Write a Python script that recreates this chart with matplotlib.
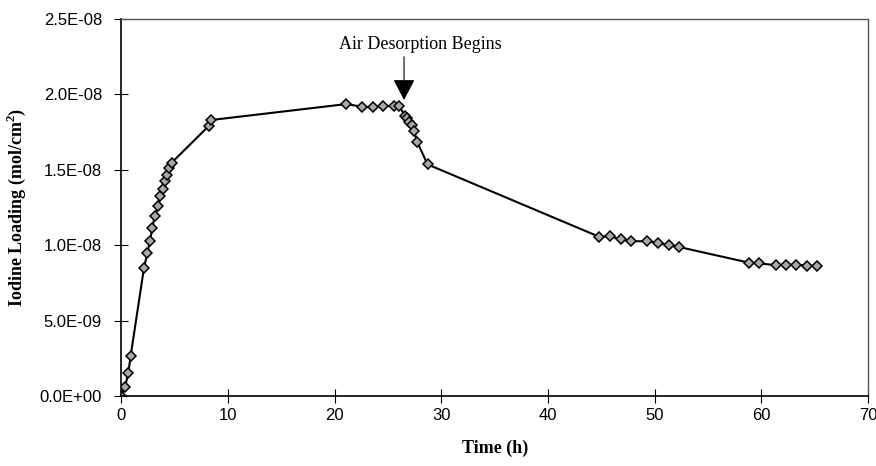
import numpy as np
import matplotlib
matplotlib.use('Agg')
import matplotlib.pyplot as plt

# data
time_h = [0, 0.34, 0.65, 0.87, 2.12, 2.43, 2.68, 2.9, 3.12, 3.46, 3.65, 3.87,
          4.09, 4.3, 4.49, 4.71, 8.21, 8.4, 21.1, 22.58, 23.55, 24.55, 25.55,
          26.05, 26.58, 26.8, 26.98, 27.21, 27.45, 27.73, 28.7, 44.79, 45.79,
          46.8, 47.76, 49.29, 50.32, 51.32, 52.29, 58.85, 59.78, 61.35, 62.29,
          63.29, 64.28, 65.22]
loading_e8 = [0, 0.058, 0.155, 0.267, 0.851, 0.946, 1.03, 1.112, 1.194, 1.26,
              1.326, 1.371, 1.428, 1.466, 1.51, 1.547, 1.792, 1.83, 1.936,
              1.918, 1.914, 1.923, 1.925, 1.923, 1.857, 1.842, 1.819, 1.797,
              1.757, 1.686, 1.536, 1.056, 1.059, 1.039, 1.026, 1.026, 1.015,
              1.001, 0.988, 0.884, 0.88, 0.867, 0.869, 0.871, 0.864, 0.862]
loading = np.array(loading_e8) * 1e-8

xticks = [0, 10, 20, 30, 40, 50, 60, 70]
yticks = [0, 5e-9, 1e-8, 1.5e-8, 2e-8, 2.5e-8]
ytick_labels = ['0.0E+00', '5.0E-09', '1.0E-08', '1.5E-08', '2.0E-08', '2.5E-08']

serif = 'Liberation Serif'
sans = 'Liberation Sans'

# bold serif superscript in the y label
plt.rcParams['mathtext.fontset'] = 'custom'
plt.rcParams['mathtext.rm'] = serif + ':bold'
plt.rcParams['mathtext.bf'] = serif + ':bold'

fig = plt.figure(figsize=(8.76, 4.66), dpi=100)
ax = fig.add_axes([121.4 / 876, 70 / 466, (868 - 121.4) / 876, (396 - 19) / 466])

ax.plot(time_h, loading, color='black', lw=1.5, marker='D', markersize=5.5,
        markerfacecolor='#a8a8a8', markeredgecolor='black', markeredgewidth=1.1)

ax.set_xlim(0, 70)
ax.set_ylim(0, 2.5e-8)
ax.set_xticks(xticks)
ax.set_xticklabels([str(t) for t in xticks], fontfamily=sans, fontsize=12)
ax.set_yticks(yticks)
ax.set_yticklabels(ytick_labels, fontfamily=sans, fontsize=12)
ax.tick_params(axis='both', direction='inout', length=10, width=0.8, color='black')
ax.tick_params(axis='x', pad=4)
ax.tick_params(axis='y', pad=9)

for s in ['left', 'bottom']:
    ax.spines[s].set_linewidth(1.2)
    ax.spines[s].set_color('black')
for s in ['top', 'right']:
    ax.spines[s].set_linewidth(1.0)
    ax.spines[s].set_color('#555555')

ax.set_xlabel('Time (h)', fontfamily=serif, fontweight='bold', fontsize=13, labelpad=12)
ax.set_ylabel('Iodine Loading (mol/cm$^\\mathbf{2}$)', fontfamily=serif, fontweight='bold',
              fontsize=13, labelpad=8)

# annotation
ax.text(28.0, 2.33e-8, 'Air Desorption Begins', fontfamily=serif, fontsize=13,
        ha='center', va='center')
ax.annotate('', xy=(26.5, 1.963e-8), xytext=(26.5, 2.25e-8),
            arrowprops=dict(arrowstyle='-|>,head_length=0.65,head_width=0.34',
                            mutation_scale=20, color='black', lw=0.8,
                            shrinkA=0, shrinkB=0))

fig.savefig('out.png', dpi=100)
